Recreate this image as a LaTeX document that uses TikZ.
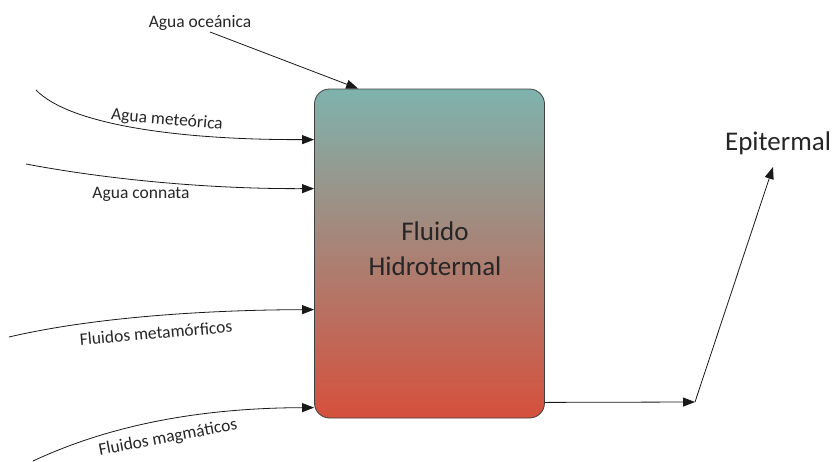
\documentclass[tikz,border=0pt]{standalone}
\usepackage{fontspec}
\setmainfont{Carlito}
\usetikzlibrary{arrows.meta,calc}
\begin{document}
\begin{tikzpicture}[x=1pt,y=-1pt,
  flow/.style={draw=black!90, line width=0.8pt, -{Triangle[length=12pt,width=9pt]}},
  lbl/.style={font=\fontsize{17.5}{20}\selectfont, text=black!85, inner sep=0pt},
  big/.style={font=\fontsize{27}{35}\selectfont, text=black!85, align=center}]
\useasboundingbox (0,0) rectangle (835,461);
\definecolor{topc}{RGB}{126,179,173}
\definecolor{botc}{RGB}{213,80,60}
\node[draw=black!75, line width=0.8pt, rounded corners=15pt, minimum width=230pt, minimum height=329pt,
  top color=topc, bottom color=botc, inner sep=0pt] (box) at (429.5,253.5) {};
\node[big] (t) at (435,249) {Fluido\\Hidrotermal};
\node[big, inner sep=0pt] (epi) at (778,143) {Epitermal};
\coordinate (o1) at (210,32);
\coordinate (m1) at (36,90);
\coordinate (c1) at (26,164);
\coordinate (f1) at (9,337);
\coordinate (g1) at (33,461);
\coordinate (k) at (695,402);
\coordinate (e) at (773,167);
\draw[flow] (o1) -- ($(box.north west)+(44,0)$);
\draw[flow] (m1) .. controls (70,125) and (180,140) .. ($(box.north west)+(0,51)$);
\draw[flow] (c1) .. controls (100,178) and (200,189) .. ($(box.north west)+(0,100)$);
\draw[flow] (f1) .. controls (90,318) and (200,310) .. ($(box.north west)+(0,221)$);
\draw[flow] (g1) .. controls (110,425) and (200,408) .. ($(box.north west)+(0,319)$);
\draw[flow] ($(box.south east)+(0,-16)$) -- (k);
\draw[flow] (k) -- (e);
\node[lbl] (lo) at (200,23) {Agua oceánica};
\node[lbl, rotate=-5] (lm) at (167,120) {Agua meteórica};
\node[lbl] (lc) at (141,194) {Agua connata};
\node[lbl, rotate=5] (lf) at (156,333) {Fluidos metamórficos};
\node[lbl, rotate=10.5] (lg) at (168,438) {Fluidos magmáticos};
\end{tikzpicture}
\end{document}
